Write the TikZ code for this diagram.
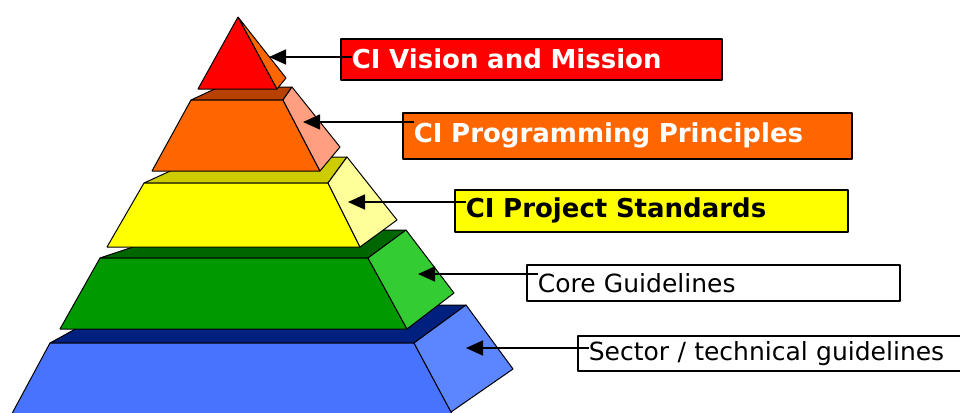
\documentclass[tikz,border=0pt]{standalone}
\usepackage{fontspec}
\setmainfont{DejaVu Sans}
\usetikzlibrary{arrows.meta}

\definecolor{red_front}{HTML}{FF0000}
\definecolor{red_side}{HTML}{FF6600}
\definecolor{orange_front}{HTML}{FF6600}
\definecolor{orange_top}{HTML}{B84000}
\definecolor{orange_side}{HTML}{FF9F7F}
\definecolor{yellow_front}{HTML}{FFFF00}
\definecolor{yellow_top}{HTML}{CCCC00}
\definecolor{yellow_side}{HTML}{FFFF99}
\definecolor{green_front}{HTML}{009900}
\definecolor{green_top}{HTML}{006600}
\definecolor{green_side}{HTML}{33CC33}
\definecolor{blue_front}{HTML}{4773FF}
\definecolor{blue_top}{HTML}{00207F}
\definecolor{blue_side}{HTML}{5C86FF}

\begin{document}
\begin{tikzpicture}[x=1pt,y=-1pt,line join=bevel,
  face/.style={draw=black,line width=1pt},
  label_box/.style={draw=black,line width=1.6pt,anchor=north west,inner xsep=11pt,inner ysep=0pt,align=left},
  strong/.style={font=\fontsize{26}{30}\selectfont\bfseries},
  plain/.style={font=\fontsize{25}{30}\selectfont},
  pointer/.style={black,line width=1.6pt,-{Triangle[length=17pt,width=15pt]}}]
\useasboundingbox (0,0) rectangle (960,412);
\clip (0,0) rectangle (960,412);
%% pyramid, bottom layer first
\fill [face,fill=blue_top] (50,343) -- (119,305) -- (466,305) -- (414,343) -- cycle;
\fill [face,fill=blue_front] (50,343) -- (414,343) -- (456,421) -- (8,421) -- cycle;
\fill [face,fill=blue_side] (414,343) -- (466,305) -- (513,369) -- (451,412) -- cycle;
%
\fill [face,fill=green_top] (100,258) -- (184,230) -- (406,230) -- (368,258) -- cycle;
\fill [face,fill=green_front] (100,258) -- (368,258) -- (407,329) -- (60,329) -- cycle;
\fill [face,fill=green_side] (368,258) -- (406,230) -- (454,293) -- (407,329) -- cycle;
%
\fill [face,fill=yellow_top] (144,183) -- (201,157) -- (347,157) -- (328,183) -- cycle;
\fill [face,fill=yellow_front] (144,183) -- (328,183) -- (360,247) -- (107,247) -- cycle;
\fill [face,fill=yellow_side] (328,183) -- (347,157) -- (397,220) -- (360,247) -- cycle;
%
\fill [face,fill=orange_top] (191,100) -- (219,87) -- (292,87) -- (283,100) -- cycle;
\fill [face,fill=orange_front] (191,100) -- (283,100) -- (320,171) -- (152,171) -- cycle;
\fill [face,fill=orange_side] (283,100) -- (292,87) -- (340,147) -- (320,171) -- cycle;
%
\fill [face,fill=red_front] (238,17) -- (277,89) -- (198,89) -- cycle;
\fill [face,fill=red_side] (238,17) -- (286,78) -- (277,89) -- cycle;
%% arrow tips on the side faces
\coordinate (tip_0) at (269,57);
\coordinate (tip_1) at (303,122);
\coordinate (tip_2) at (348,202);
\coordinate (tip_3) at (418,274);
\coordinate (tip_4) at (466,348);
%% labels
\node (box_vision) at (340,38) [label_box,strong,fill=red,text=white,minimum width=381pt,minimum height=41pt,text width=359pt] {CI Vision and Mission};
\node (box_principles) at (402,112) [label_box,strong,fill=orange_front,text=white,minimum width=449pt,minimum height=46pt,text width=427pt] {CI Programming Principles};
\node (box_standards) at (454,189) [label_box,strong,fill=yellow_front,minimum width=393pt,minimum height=42pt,text width=371pt] {CI Project Standards};
\node (box_core) at (526,264) [label_box,plain,fill=white,minimum width=373pt,minimum height=36pt,text width=351pt] {Core Guidelines};
\node (box_sector) at (577,335) [label_box,plain,fill=white,minimum width=410pt,minimum height=35pt,text width=388pt] {Sector / technical guidelines};
%
\draw [pointer] ([shift={(12,19)}]box_vision.north west) -- (tip_0);
\draw [pointer] ([shift={(12,10)}]box_principles.north west) -- (tip_1);
\draw [pointer] ([shift={(12,13)}]box_standards.north west) -- (tip_2);
\draw [pointer] ([shift={(12,10)}]box_core.north west) -- (tip_3);
\draw [pointer] ([shift={(12,13)}]box_sector.north west) -- (tip_4);
%
\end{tikzpicture}
\end{document}
